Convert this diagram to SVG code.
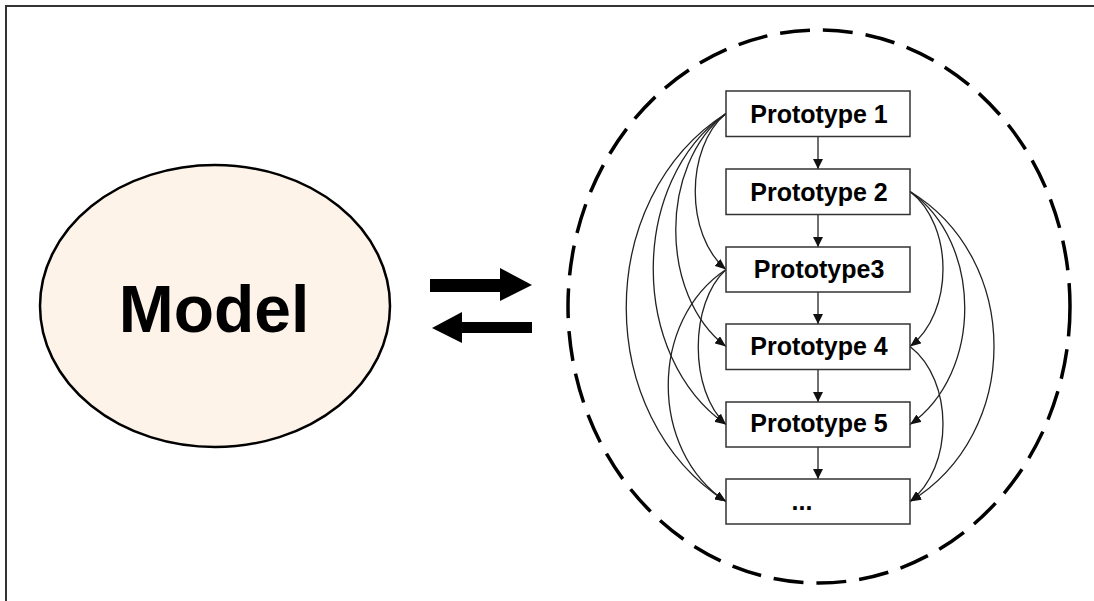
<svg xmlns="http://www.w3.org/2000/svg" width="1094" height="601" viewBox="0 0 1094 601">
<style>
.box{fill:#fff;stroke:#333;stroke-width:1.5}
.lbl{font-family:"Liberation Sans",Arial,sans-serif;font-weight:bold;font-size:25px;text-anchor:middle;fill:#000}
.conn{fill:none;stroke:#222;stroke-width:1.3}
</style>
<defs>
<marker id="ah" markerUnits="userSpaceOnUse" markerWidth="10" markerHeight="10" refX="10" refY="5" orient="auto"><path d="M0,0 L10,5 L0,10 z" fill="#111"/></marker>
<marker id="ahs" markerUnits="userSpaceOnUse" markerWidth="11" markerHeight="9" refX="11" refY="4.5" orient="auto"><path d="M0,0 L11,4.5 L0,9 z" fill="#111"/></marker>
</defs>
<rect width="1094" height="601" fill="#fff"/>
<path d="M6,601 V6 H1094" fill="none" stroke="#333" stroke-width="2"/>

<g id="model">
<ellipse cx="215" cy="306" rx="175" ry="141" fill="#FDF3E8" stroke="#000" stroke-width="2.5"/>
<text x="214" y="332" font-family="Liberation Sans,Arial,sans-serif" font-weight="bold" font-size="66" text-anchor="middle">Model</text>
</g>

<g id="exchange-arrows" fill="#000">
<polygon points="430,279 500,279 500,268 532,285 500,301 500,292 430,292"/>
<polygon points="532,322 462,322 462,312 432,328 462,343 462,333 532,333"/>
</g>

<g id="group-boundary">
<ellipse cx="819" cy="306.5" rx="251" ry="276.5" fill="none" stroke="#000" stroke-width="3.5" stroke-dasharray="30 13"/>
</g>

<g id="connectors">
<g class="conn" marker-end="url(#ah)">
<line x1="818" y1="136.5" x2="818" y2="169"/>
<line x1="818" y1="214.5" x2="818" y2="247"/>
<line x1="818" y1="292" x2="818" y2="324"/>
<line x1="818" y1="369.5" x2="818" y2="402"/>
<line x1="818" y1="447" x2="818" y2="479"/>
</g>
<g class="conn" marker-end="url(#ahs)">
<path d="M726,113.5 C685,147.5 685,235.5 726,269.5"/>
<path d="M726,113.5 C659,164.5 659,295.5 726,346.5"/>
<path d="M726,113.5 C629,181.5 629,356.5 726,424.5"/>
<path d="M726,113.5 C593,198.5 593,416.5 726,501.5"/>
<path d="M726,269.5 C689,303.5 689,390.5 726,424.5"/>
<path d="M726,269.5 C649,320.5 649,450.5 726,501.5"/>
<path d="M910,191.5 C954,225.5 954,312.5 910,346.5"/>
<path d="M910,191.5 C983,242.5 983,373.5 910,424.5"/>
<path d="M910,191.5 C1022,259.5 1022,433.5 910,501.5"/>
<path d="M910,346.5 C954,380.5 954,467.5 910,501.5"/>
</g>
</g>

<g id="prototype1"><rect class="box" x="726" y="91" width="184" height="45.5"/><text class="lbl" x="819" y="123">Prototype 1</text></g>
<g id="prototype2"><rect class="box" x="726" y="169" width="184" height="45.5"/><text class="lbl" x="819" y="201">Prototype 2</text></g>
<g id="prototype3"><rect class="box" x="726" y="247" width="184" height="45"/><text class="lbl" x="819" y="278">Prototype3</text></g>
<g id="prototype4"><rect class="box" x="726" y="324" width="184" height="45.5"/><text class="lbl" x="819" y="355">Prototype 4</text></g>
<g id="prototype5"><rect class="box" x="726" y="402" width="184" height="45"/><text class="lbl" x="819" y="432">Prototype 5</text></g>
<g id="prototype-more"><rect class="box" x="726" y="479" width="184" height="45"/><text class="lbl" x="802" y="510">...</text></g>
</svg>
